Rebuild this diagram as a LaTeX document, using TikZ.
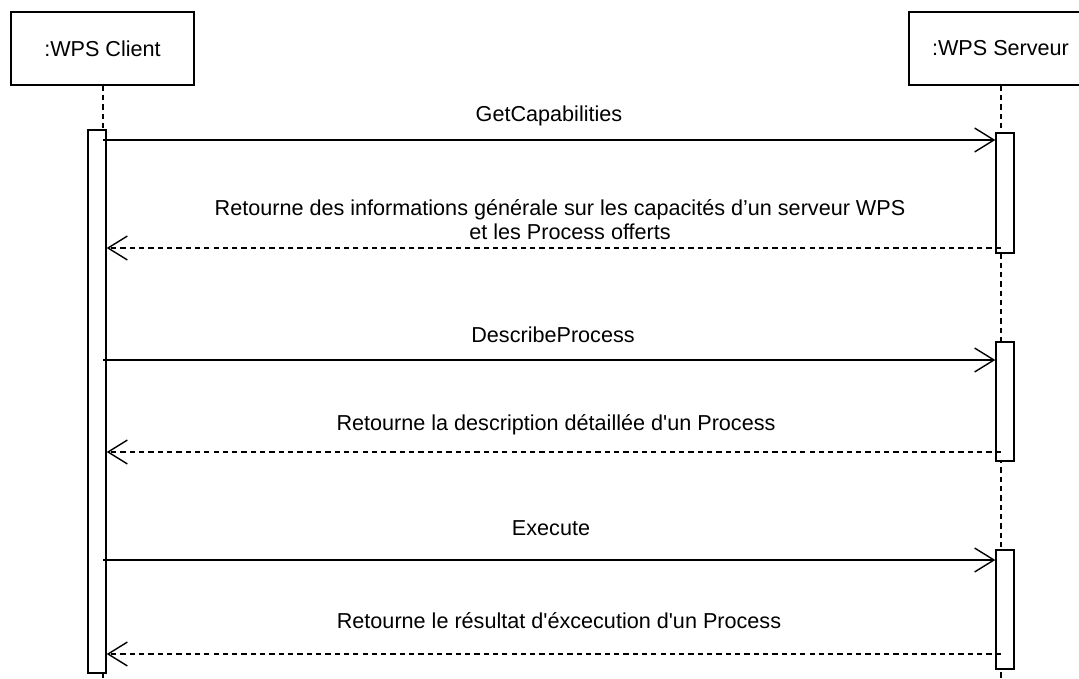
\documentclass[tikz,border=0pt]{standalone}
\usepackage{fontspec}
\setmainfont{Liberation Sans}
\usepackage{tikz}
\usetikzlibrary{arrows.meta}

\begin{document}
\begin{tikzpicture}[x=0.02cm, y=-0.02cm,
        every node/.style={font=\fontsize{12.3}{13.6}\selectfont},
        obj/.style={draw=black, line width=0.8pt, minimum width=3.66cm, minimum height=1.46cm},
        bar/.style={draw=black, fill=white, line width=0.8pt, minimum width=0.36cm, inner sep=0pt},
        life/.style={line width=0.8pt, dash pattern=on 3pt off 2.3pt},
        call/.style={line width=0.8pt, -{Straight Barb[length=11pt, width=13.6pt]}},
        reply/.style={call, dash pattern=on 3pt off 2.3pt},
        lbl/.style={anchor=base, inner sep=0pt}]
            \useasboundingbox (0,0) rectangle (1079,679);

            % objets
            \node[obj] (client) at (102.5, 48.5) {:WPS Client};
            \node[obj] (serveur) at (1000.5, 48.5) {:WPS Serveur};

            % lignes de vie
            \coordinate (cEnd) at (103, 679);
            \coordinate (sEnd) at (1001, 679);
            \path [life] (cEnd |- client.south) edge (cEnd);
            \path [life] (sEnd |- serveur.south) edge (sEnd);

            % activations
            \node[bar, minimum height=10.86cm] (cBar) at (97, 401.5) {};
            \node[bar, minimum height=2.4cm] (sBar1) at (1005, 193) {};
            \node[bar, minimum height=2.38cm] (sBar2) at (1005, 401.5) {};
            \node[bar, minimum height=2.38cm] (sBar3) at (1005, 609.5) {};

            % messages
            \coordinate (m1) at (103, 140);
            \coordinate (r1) at (1001, 248);
            \coordinate (m2) at (103, 360);
            \coordinate (r2) at (1001, 452);
            \coordinate (m3) at (103, 560);
            \coordinate (r3) at (1001, 654);

            \path [call] (m1) edge (m1 -| sBar1.west);
            \path [reply] (r1) edge (r1 -| cBar.east);
            \path [call] (m2) edge (m2 -| sBar2.west);
            \path [reply] (r2) edge (r2 -| cBar.east);
            \path [call] (m3) edge (m3 -| sBar3.west);
            \path [reply] (r3) edge (r3 -| cBar.east);

            % libellés
            \node[lbl] (l1) at (549, 122) {GetCapabilities};
            \node[lbl, align=center] (l2) at (560, 239) {Retourne des informations générale sur les capacités d’un serveur WPS\\\hspace*{0.4cm}et les Process offerts};
            \node[lbl] (l3) at (553, 342) {DescribeProcess};
            \node[lbl] (l4) at (556, 430) {Retourne la description détaillée d\textquotesingle un Process};
            \node[lbl] (l5) at (551, 535) {Execute};
            \node[lbl] (l6) at (559, 628) {Retourne le résultat d\textquotesingle éxcecution d\textquotesingle un Process};
        \end{tikzpicture}
\end{document}
